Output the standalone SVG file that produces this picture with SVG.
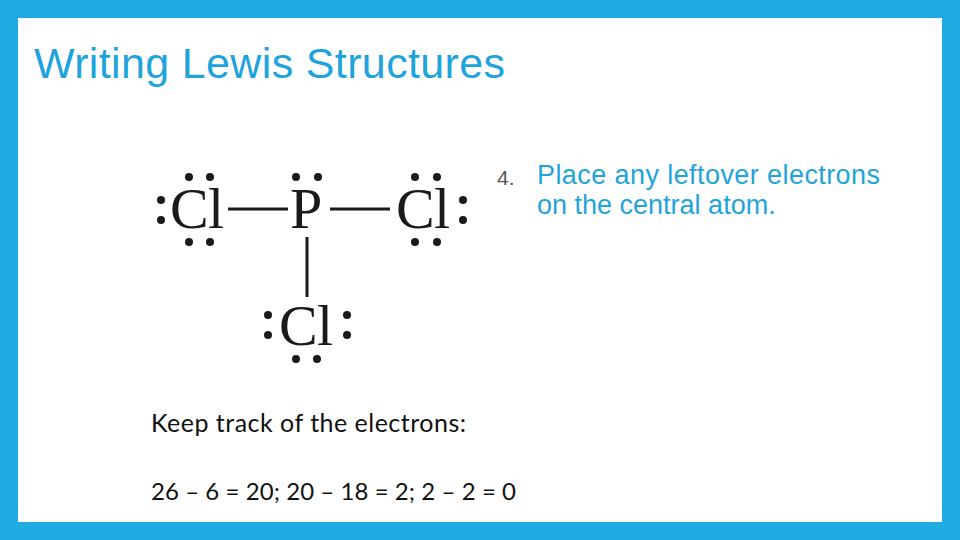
<svg xmlns="http://www.w3.org/2000/svg" width="960" height="540" viewBox="0 0 960 540">
<style>
.el{font-family:"Liberation Serif",serif;font-size:58px;fill:#1a1a1a}
.d{fill:#1a1a1a}
.b{stroke:#1a1a1a;stroke-width:3}
.blue{font-family:"Liberation Sans",Arial,sans-serif;fill:#1FA3DC}
.cal{font-family:Lato,"Open Sans",sans-serif;fill:#111}
</style>
<rect width="960" height="540" fill="#1FAAE1"/>
<rect x="18" y="18" width="924" height="504" fill="#fff"/>
<text class="blue" x="34" y="78" font-size="43" textLength="471">Writing Lewis Structures</text>
<g id="lewis">
<g id="connectors">
<line class="b" x1="228" y1="209" x2="288" y2="209"/>
<line class="b" x1="330" y1="209" x2="390" y2="209"/>
<line class="b" x1="307" y1="237" x2="307" y2="297"/>
</g>
<g id="cl-left"><text class="el" x="170" y="228" textLength="54">Cl</text>
<circle class="d" cx="189" cy="177" r="4"/><circle class="d" cx="210" cy="177" r="4"/>
<circle class="d" cx="189" cy="242" r="4"/><circle class="d" cx="210" cy="242" r="4"/>
<circle class="d" cx="161" cy="200" r="4"/><circle class="d" cx="161" cy="220" r="4"/></g>
<g id="p"><text class="el" x="290" y="228">P</text>
<circle class="d" cx="296" cy="177" r="4"/><circle class="d" cx="318" cy="177" r="4"/></g>
<g id="cl-right"><text class="el" x="396" y="228" textLength="54">Cl</text>
<circle class="d" cx="415" cy="177" r="4"/><circle class="d" cx="437" cy="177" r="4"/>
<circle class="d" cx="415" cy="242" r="4"/><circle class="d" cx="437" cy="242" r="4"/>
<circle class="d" cx="463" cy="200" r="4"/><circle class="d" cx="463" cy="220" r="4"/></g>
<g id="cl-bottom"><text class="el" x="279" y="345" textLength="54">Cl</text>
<circle class="d" cx="268" cy="315" r="4"/><circle class="d" cx="268" cy="335" r="4"/>
<circle class="d" cx="347" cy="315" r="4"/><circle class="d" cx="347" cy="335" r="4"/>
<circle class="d" cx="296" cy="359" r="4"/><circle class="d" cx="317" cy="359" r="4"/></g>
</g>
<text x="497" y="185" font-family="Liberation Sans,sans-serif" font-size="21" fill="#555">4.</text>
<text class="blue" x="537" y="184" font-size="27" textLength="343">Place any leftover electrons</text>
<text class="blue" x="537" y="214" font-size="27">on the central atom.</text>
<text class="cal" x="151" y="432" font-size="25" textLength="315">Keep track of the electrons:</text>
<text class="cal" x="151" y="500" font-size="24" textLength="365">26 – 6 = 20; 20 – 18 = 2; 2 – 2 = 0</text>
</svg>
